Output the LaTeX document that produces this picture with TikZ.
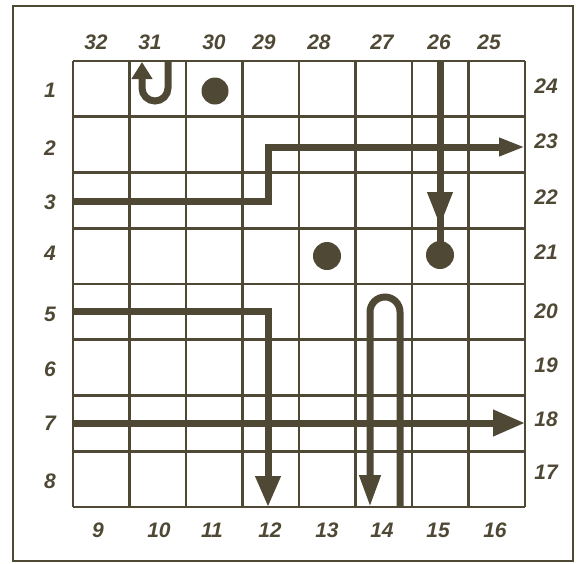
\documentclass[tikz,border=0pt]{standalone}
\usepackage{fontspec}
\setmainfont{Liberation Sans}
\usetikzlibrary{arrows.meta}
\definecolor{ink}{RGB}{78,72,52}
\begin{document}
\begin{tikzpicture}[x=1pt,y=-1pt,
  gridline/.style={draw=ink,line width=2.6pt},
  route/.style={draw=ink,line width=7pt,line join=miter},
  bigtip/.style={-{Triangle[length=31pt,width=24pt]}},
  dot/.style={circle,fill=ink,inner sep=0pt,minimum size=28pt},
  lab/.style={text=ink,font=\fontsize{21}{21}\selectfont\bfseries\itshape,inner sep=0pt}]
\useasboundingbox (0,0) rectangle (579,563);
\draw[ink,line width=2pt] (13,6) rectangle (573,561);
% grid
\foreach \i in {0,...,8} {
  \draw[gridline] ({73+\i*56.5},61) -- ({73+\i*56.5},507);
  \draw[gridline] (73,{61+\i*55.75}) -- (525,{61+\i*55.75});
}
% labels top
\foreach \t/\x in {32/96,31/150,30/214,29/264,28/319,27/382,26/439,25/489}
  \node[lab] (t\t) at (\x,42) {\t};
% labels bottom
\foreach \t/\x in {9/98,10/159,11/212,12/270,13/327,14/382,15/438,16/495}
  \node[lab] (b\t) at (\x,530) {\t};
% labels left
\foreach \t/\y in {1/90,2/148,3/202,4/253,5/314,6/369,7/423,8/481}
  \node[lab] (l\t) at (50,\y) {\t};
% labels right
\foreach \t/\y in {24/86,23/141,22/197,21/252,20/311,19/365,18/419,17/472}
  \node[lab] (r\t) at (546,\y) {\t};
% dots
\node[dot,minimum size=27pt] (d1) at (215,91) {};
\node[dot] (d2) at (327,256) {};
\node[dot] (d3) at (440,255) {};
% coordinates
\coordinate (ua) at (168,61);
\coordinate (ub) at (142,62);
\coordinate (p3) at (73,201);
\coordinate (p3a) at (268,201);
\coordinate (p3b) at (268,147);
\coordinate (p3c) at (525,147);
\coordinate (c26) at (440,61);
\coordinate (c26a) at (440,226);
\coordinate (c26b) at (440,212);
\coordinate (p5) at (73,311);
\coordinate (p5a) at (268,311);
\coordinate (p5b) at (268,507);
\coordinate (ur) at (400,507);
\coordinate (ul) at (370,507);
\coordinate (p7) at (73,423);
\coordinate (p7a) at (525,423);
% routes
\draw[route,-{Triangle[length=17pt,width=20pt]}] (ua) -- (168,88) arc[start angle=0,end angle=180,radius=13] -- (ub);
\draw[route,-{Triangle[length=26pt,width=17pt]}] (p3) -- (p3a) -- (p3b) -- (p3c);
\draw[route,-{Triangle[length=34pt,width=24pt]}] (c26) -- (c26a);
\draw[route] (c26b) -- (d3.center);
\draw[route,bigtip] (p5) -- (p5a) -- (p5b);
\draw[route,-{Triangle[length=32pt,width=20pt]}] (ur) -- (400,312) arc[start angle=0,end angle=-180,radius=15] -- (ul);
\draw[route,-{Triangle[length=32pt,width=25pt]}] (p7) -- (p7a);
\end{tikzpicture}
\end{document}
